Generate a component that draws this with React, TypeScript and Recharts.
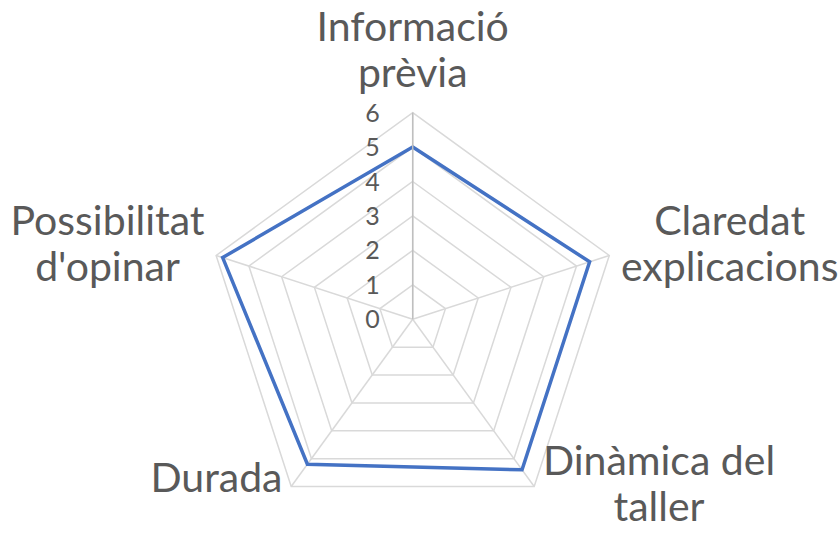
import { PolarAngleAxis, PolarGrid, PolarRadiusAxis, Radar, RadarChart } from "recharts";

const CATEGORIES = [
  "Informació prèvia",
  "Claredat explicacions",
  "Dinàmica del taller",
  "Durada",
  "Possibilitat d'opinar",
];
const LABEL_LINES = [
  ["Informació", "prèvia"],
  ["Claredat", "explicacions"],
  ["Dinàmica del", "taller"],
  ["Durada"],
  ["Possibilitat", "d'opinar"],
];
const VALUES = [5, 5.4, 5.4, 5.2, 5.8];
const RADIUS_TICKS = [0, 1, 2, 3, 4, 5, 6];

const CX = 412.7;
const CY = 319.3;
const OUTER = 206.7;
const FONT = "Lato, 'Open Sans', sans-serif";
const LABEL_SIZE = 41;
const LINE_H = 46;
const TEXT_COLOR = "#595959";

const chartData = CATEGORIES.map((name, i) => ({ name, value: VALUES[i] }));

let ctx: CanvasRenderingContext2D | null = null;
function textWidth(s: string) {
  if (!ctx) ctx = document.createElement("canvas").getContext("2d");
  if (!ctx) return s.length * LABEL_SIZE * 0.5;
  ctx.font = `${LABEL_SIZE}px Lato`;
  return ctx.measureText(s).width;
}

function AngleTick(props: any) {
  const { x, y, index } = props;
  const lines = LABEL_LINES[index] || [String(props.payload.value)];
  const dx = x - CX;
  const dy = y - CY;
  const r = Math.hypot(dx, dy) || 1;
  const cos = dx / r;
  const w = Math.max(...lines.map(textWidth));
  const h = lines.length * LINE_H;
  let centerX = x;
  let centerY = y;
  if (Math.abs(cos) < 0.2) {
    centerY = y - 9 - h / 2;
  } else {
    centerX = x + Math.sign(cos) * (w / 2 + 4);
    centerY = y - 9 - (lines.length === 1 ? 6 : 0);
  }
  return (
    <g>
      {lines.map((line, i) => (
        <text
          key={i}
          x={centerX}
          y={centerY - h / 2 + LINE_H * (i + 0.5) + LABEL_SIZE * 0.35}
          textAnchor="middle"
          fill={TEXT_COLOR}
          fontSize={LABEL_SIZE}
          fontFamily={FONT}
        >
          {line}
        </text>
      ))}
    </g>
  );
}

function RadiusTick(props: any) {
  const { x, y, payload } = props;
  return (
    <text
      x={x - 33}
      y={y}
      dy="0.36em"
      textAnchor="end"
      fill={TEXT_COLOR}
      fontSize={25}
      fontFamily={FONT}
    >
      {payload.value}
    </text>
  );
}

export default function App() {
  return (
    <div style={{ position: "absolute", left: 0, top: 0, background: "#fff" }}>
      <RadarChart
        width={840}
        height={539}
        data={chartData}
        cx={CX}
        cy={CY}
        outerRadius={OUTER}
        margin={{ top: 0, right: 0, bottom: 0, left: 0 }}
      >
        <PolarGrid stroke="#d9d9d9" strokeWidth={1.5} />
        <PolarAngleAxis
          dataKey="name"
          tick={<AngleTick />}
          tickLine={false}
          axisLine={false}
        />
        <PolarRadiusAxis
          angle={90}
          domain={[0, 6]}
          ticks={RADIUS_TICKS as any}
          tickCount={7}
          tick={<RadiusTick />}
          axisLine={{ stroke: "#bfbfbf", strokeWidth: 1.5 }}
        />
        <Radar
          dataKey="value"
          stroke="#4472c4"
          strokeWidth={3.5}
          fill="none"
          fillOpacity={0}
          dot={false}
          isAnimationActive={false}
        />
      </RadarChart>
    </div>
  );
}
